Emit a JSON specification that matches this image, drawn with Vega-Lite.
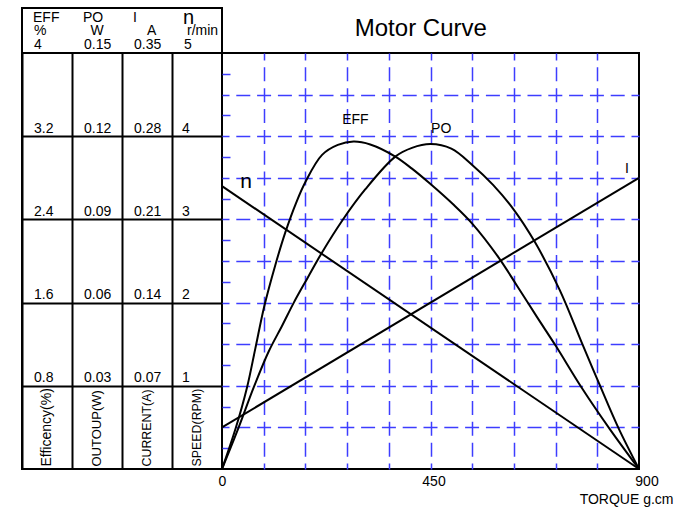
{
  "$schema": "https://vega.github.io/schema/vega-lite/v6.json",
  "background": "white",
  "padding": {"left": 21, "top": 7, "right": 5, "bottom": 5},
  "config": {
    "font": "Liberation Sans",
    "view": {"stroke": "black", "strokeWidth": 2, "fill": "white"},
    "text": {"font": "Liberation Sans", "color": "black"},
    "axis": {"labelFont": "Liberation Sans", "titleFont": "Liberation Sans", "labelColor": "black", "titleColor": "black"}
  },
  "datasets": {
    "columns": [
      {"column": "EFF", "name": "EFF", "unit": "%", "max": 4, "label": "Efficency(%)"},
      {"column": "PO", "name": "PO", "unit": "W", "max": 0.15, "label": "OUTOUP(W)"},
      {"column": "I", "name": "I", "unit": "A", "max": 0.35, "label": "CURRENT(A)"},
      {"column": "n", "name": "n", "unit": "r/min", "max": 5, "label": "SPEED(RPM)"}
    ],
    "levels": [
      {"EFF": 0.8, "PO": 0.03, "I": 0.07, "n": 1},
      {"EFF": 1.6, "PO": 0.06, "I": 0.14, "n": 2},
      {"EFF": 2.4, "PO": 0.09, "I": 0.21, "n": 3},
      {"EFF": 3.2, "PO": 0.12, "I": 0.28, "n": 4}
    ],
    "curves": [
      {"series": "n", "torque": 0, "value": 3.4},
      {"series": "n", "torque": 900, "value": 0},
      {"series": "I", "torque": 0, "value": 0.035},
      {"series": "I", "torque": 900, "value": 0.245},
      {"series": "EFF", "torque": 0, "value": 0},
      {"series": "EFF", "torque": 29, "value": 0.384},
      {"series": "EFF", "torque": 54, "value": 0.784},
      {"series": "EFF", "torque": 72, "value": 1.16},
      {"series": "EFF", "torque": 91, "value": 1.56},
      {"series": "EFF", "torque": 115, "value": 1.96},
      {"series": "EFF", "torque": 137, "value": 2.28},
      {"series": "EFF", "torque": 160, "value": 2.56},
      {"series": "EFF", "torque": 180, "value": 2.76},
      {"series": "EFF", "torque": 216, "value": 3.02},
      {"series": "EFF", "torque": 250, "value": 3.116},
      {"series": "EFF", "torque": 284, "value": 3.148},
      {"series": "EFF", "torque": 320, "value": 3.12},
      {"series": "EFF", "torque": 374, "value": 3.004},
      {"series": "EFF", "torque": 410, "value": 2.888},
      {"series": "EFF", "torque": 450, "value": 2.74},
      {"series": "EFF", "torque": 500, "value": 2.54},
      {"series": "EFF", "torque": 540, "value": 2.36},
      {"series": "EFF", "torque": 596, "value": 2.04},
      {"series": "EFF", "torque": 637, "value": 1.76},
      {"series": "EFF", "torque": 680, "value": 1.46},
      {"series": "EFF", "torque": 721, "value": 1.18},
      {"series": "EFF", "torque": 776, "value": 0.784},
      {"series": "EFF", "torque": 837, "value": 0.384},
      {"series": "EFF", "torque": 900, "value": 0},
      {"series": "PO", "torque": 0, "value": 0},
      {"series": "PO", "torque": 36, "value": 0.015},
      {"series": "PO", "torque": 68, "value": 0.02925},
      {"series": "PO", "torque": 101, "value": 0.04245},
      {"series": "PO", "torque": 130, "value": 0.05175},
      {"series": "PO", "torque": 155, "value": 0.06},
      {"series": "PO", "torque": 185, "value": 0.069},
      {"series": "PO", "torque": 214, "value": 0.07755},
      {"series": "PO", "torque": 260, "value": 0.0897},
      {"series": "PO", "torque": 309, "value": 0.1008},
      {"series": "PO", "torque": 374, "value": 0.11265},
      {"series": "PO", "torque": 410, "value": 0.1158},
      {"series": "PO", "torque": 450, "value": 0.11715},
      {"series": "PO", "torque": 495, "value": 0.1155},
      {"series": "PO", "torque": 540, "value": 0.10965},
      {"series": "PO", "torque": 585, "value": 0.10245},
      {"series": "PO", "torque": 630, "value": 0.09345},
      {"series": "PO", "torque": 675, "value": 0.0819},
      {"series": "PO", "torque": 729, "value": 0.0645},
      {"series": "PO", "torque": 776, "value": 0.04575},
      {"series": "PO", "torque": 814, "value": 0.03075},
      {"series": "PO", "torque": 855, "value": 0.015},
      {"series": "PO", "torque": 900, "value": 0}
    ],
    "labels": [
      {"series": "EFF", "torque": 288, "value": 3.32},
      {"series": "PO", "torque": 473, "value": 0.1212},
      {"series": "I", "torque": 874, "value": 0.249},
      {"series": "n", "torque": 52, "value": 3.38}
    ]
  },
  "spacing": 0,
  "bounds": "flush",
  "columns": 2,
  "concat": [
    {
      "width": 200,
      "height": 45,
      "data": {"name": "columns"},
      "encoding": {
        "x": {"field": "column", "type": "nominal", "scale": {"type": "band", "domain": ["EFF", "PO", "I", "n"], "paddingInner": 0, "paddingOuter": 0}, "axis": null}
      },
      "layer": [
        {"transform": [{"filter": "datum.column !== 'n'"}], "mark": {"type": "text", "align": "left", "baseline": "alphabetic", "fontSize": 14, "dx": -14, "dy": -9}, "encoding": {"text": {"field": "name"}}},
        {"transform": [{"filter": "datum.column === 'n'"}], "mark": {"type": "text", "align": "left", "baseline": "alphabetic", "fontSize": 20, "dx": -14, "dy": -6.5}, "encoding": {"text": {"field": "name"}}},
        {"transform": [{"filter": "datum.column === 'EFF'"}], "mark": {"type": "text", "align": "left", "baseline": "alphabetic", "fontSize": 14, "dx": -13, "dy": 4}, "encoding": {"text": {"field": "unit"}}},
        {"transform": [{"filter": "datum.column === 'PO'"}], "mark": {"type": "text", "align": "center", "baseline": "alphabetic", "fontSize": 14, "dx": 0, "dy": 4}, "encoding": {"text": {"field": "unit"}}},
        {"transform": [{"filter": "datum.column === 'I'"}], "mark": {"type": "text", "align": "center", "baseline": "alphabetic", "fontSize": 14, "dx": 4.7, "dy": 4}, "encoding": {"text": {"field": "unit"}}},
        {"transform": [{"filter": "datum.column === 'n'"}], "mark": {"type": "text", "align": "left", "baseline": "alphabetic", "fontSize": 14, "dx": -10, "dy": 4}, "encoding": {"text": {"field": "unit"}}},
        {"mark": {"type": "text", "align": "left", "baseline": "alphabetic", "fontSize": 14, "dx": -13, "dy": 18.8}, "encoding": {"text": {"field": "max"}}}
      ]
    },
    {
      "width": 417,
      "height": 45,
      "data": {"values": [{"title": "Motor Curve"}]},
      "mark": {"type": "text", "fontSize": 24, "baseline": "alphabetic", "dx": -9.7, "dy": 5.5},
      "encoding": {"text": {"field": "title"}}
    },
    {
      "width": 200,
      "height": 416,
      "layer": [
        {
          "data": {"name": "levels"},
          "mark": {"type": "text", "align": "left", "baseline": "alphabetic", "fontSize": 14, "dx": -13, "dy": -3.5},
          "encoding": {
            "x": {"datum": "EFF", "type": "nominal", "scale": {"type": "band", "domain": ["EFF", "PO", "I", "n"], "paddingInner": 0, "paddingOuter": 0}, "axis": {"orient": "bottom", "bandPosition": 0, "grid": true, "gridColor": "black", "gridWidth": 2, "ticks": false, "labels": false, "domain": false, "title": null}},
            "y": {"field": "EFF", "type": "quantitative", "scale": {"domain": [0, 4], "nice": false}, "axis": {"values": [0.8, 1.6, 2.4, 3.2], "grid": true, "gridColor": "black", "gridWidth": 2, "ticks": false, "labels": false, "domain": false, "title": null}},
            "text": {"field": "EFF", "type": "quantitative", "format": ".1f"}
          }
        },
        {
          "data": {"name": "levels"},
          "mark": {"type": "text", "align": "left", "baseline": "alphabetic", "fontSize": 14, "dx": -13, "dy": -3.5},
          "encoding": {
            "x": {"datum": "PO", "type": "nominal"},
            "y": {"field": "PO", "type": "quantitative", "scale": {"domain": [0, 0.15], "nice": false}, "axis": null},
            "text": {"field": "PO", "type": "quantitative", "format": ".2f"}
          }
        },
        {
          "data": {"name": "levels"},
          "mark": {"type": "text", "align": "left", "baseline": "alphabetic", "fontSize": 14, "dx": -13, "dy": -3.5},
          "encoding": {
            "x": {"datum": "I", "type": "nominal"},
            "y": {"field": "I", "type": "quantitative", "scale": {"domain": [0, 0.35], "nice": false}, "axis": null},
            "text": {"field": "I", "type": "quantitative", "format": ".2f"}
          }
        },
        {
          "data": {"name": "levels"},
          "mark": {"type": "text", "align": "left", "baseline": "alphabetic", "fontSize": 14, "dx": -15, "dy": -3.5},
          "encoding": {
            "x": {"datum": "n", "type": "nominal"},
            "y": {"field": "n", "type": "quantitative", "scale": {"domain": [0, 5], "nice": false}, "axis": null},
            "text": {"field": "n", "type": "quantitative", "format": "d"}
          }
        },
        {
          "data": {"name": "columns"},
          "mark": {"type": "text", "angle": 270, "align": "left", "baseline": "middle", "dx": 2.5},
          "encoding": {
            "x": {"field": "column", "type": "nominal"},
            "y": {"datum": 0, "type": "quantitative", "scale": {"domain": [0, 1]}, "axis": null},
            "text": {"field": "label"},
            "size": {"condition": [{"test": "datum.column === 'EFF'", "value": 14}, {"test": "datum.column === 'PO'", "value": 13}], "value": 12.4}
          }
        }
      ],
      "resolve": {"scale": {"y": "independent"}, "axis": {"y": "independent"}}
    },
    {
      "width": 417,
      "height": 416,
      "layer": [
        {
          "encoding": {
            "x": {"field": "torque", "type": "quantitative", "scale": {"domain": [0, 900], "nice": false}, "axis": {
              "values": [0, 90, 180, 270, 360, 450, 540, 630, 720, 810, 900],
              "grid": true, "gridColor": "#3d3dff", "gridWidth": 1.5, "gridDash": [14, 6.85], "gridDashOffset": 7,
              "gridOpacity": {"condition": {"test": "datum.value > 0 && datum.value < 900", "value": 1}, "value": 0},
              "ticks": false, "domain": false,
              "labelExpr": "datum.value % 450 === 0 ? datum.label : ''",
              "labelFontSize": 14, "labelPadding": 5.5, "labelFlush": false, "labelOverlap": false,
              "labelOffset": {"condition": [{"test": "datum.value === 900", "value": 7.5}, {"test": "datum.value === 450", "value": 3}], "value": 0},
              "title": "TORQUE g.cm", "titleFontSize": 14, "titleFontWeight": "normal", "titleX": 451, "titleY": 34, "titleAlign": "right", "titleBaseline": "alphabetic"
            }},
            "y": {"field": "value", "type": "quantitative", "scale": {"domain": [0, 5], "nice": false}, "axis": {
              "orient": "left",
              "values": [0.25, 0.5, 0.75, 1, 1.25, 1.5, 1.75, 2, 2.25, 2.5, 2.75, 3, 3.25, 3.5, 3.75, 4, 4.25, 4.5, 4.75],
              "grid": true, "gridColor": "#3d3dff", "gridWidth": 1.5, "gridDash": [14, 6.8], "gridDashOffset": 7,
              "gridOpacity": {"condition": {"test": "(datum.value * 4) % 2 === 0", "value": 1}, "value": 0},
              "ticks": true, "tickSize": -8, "tickColor": "#3d3dff", "tickWidth": 1.5,
              "tickOpacity": {"condition": {"test": "(datum.value * 4) % 2 === 1", "value": 1}, "value": 0},
              "labels": false, "domain": false, "title": null
            }}
          },
          "layer": [
            {"data": {"name": "curves"}, "transform": [{"filter": "datum.series === 'n'"}], "mark": {"type": "line", "color": "black", "strokeWidth": 2}},
            {"data": {"name": "labels"}, "transform": [{"filter": "datum.series === 'n'"}], "mark": {"type": "text", "fontSize": 21, "baseline": "alphabetic"}, "encoding": {"text": {"field": "series"}}}
          ]
        },
        {
          "encoding": {
            "x": {"field": "torque", "type": "quantitative"},
            "y": {"field": "value", "type": "quantitative", "scale": {"domain": [0, 4], "nice": false}, "axis": null}
          },
          "layer": [
            {"data": {"name": "curves"}, "transform": [{"filter": "datum.series === 'EFF'"}], "mark": {"type": "line", "color": "black", "strokeWidth": 2, "interpolate": "catmull-rom"}},
            {"data": {"name": "labels"}, "transform": [{"filter": "datum.series === 'EFF'"}], "mark": {"type": "text", "fontSize": 14, "baseline": "alphabetic"}, "encoding": {"text": {"field": "series"}}}
          ]
        },
        {
          "encoding": {
            "x": {"field": "torque", "type": "quantitative"},
            "y": {"field": "value", "type": "quantitative", "scale": {"domain": [0, 0.15], "nice": false}, "axis": null}
          },
          "layer": [
            {"data": {"name": "curves"}, "transform": [{"filter": "datum.series === 'PO'"}], "mark": {"type": "line", "color": "black", "strokeWidth": 2, "interpolate": "catmull-rom"}},
            {"data": {"name": "labels"}, "transform": [{"filter": "datum.series === 'PO'"}], "mark": {"type": "text", "fontSize": 14, "baseline": "alphabetic"}, "encoding": {"text": {"field": "series"}}}
          ]
        },
        {
          "encoding": {
            "x": {"field": "torque", "type": "quantitative"},
            "y": {"field": "value", "type": "quantitative", "scale": {"domain": [0, 0.35], "nice": false}, "axis": null}
          },
          "layer": [
            {"data": {"name": "curves"}, "transform": [{"filter": "datum.series === 'I'"}], "mark": {"type": "line", "color": "black", "strokeWidth": 2}},
            {"data": {"name": "labels"}, "transform": [{"filter": "datum.series === 'I'"}], "mark": {"type": "text", "fontSize": 14, "baseline": "alphabetic"}, "encoding": {"text": {"field": "series"}}}
          ]
        }
      ],
      "resolve": {"scale": {"y": "independent"}, "axis": {"y": "independent"}}
    }
  ]
}
